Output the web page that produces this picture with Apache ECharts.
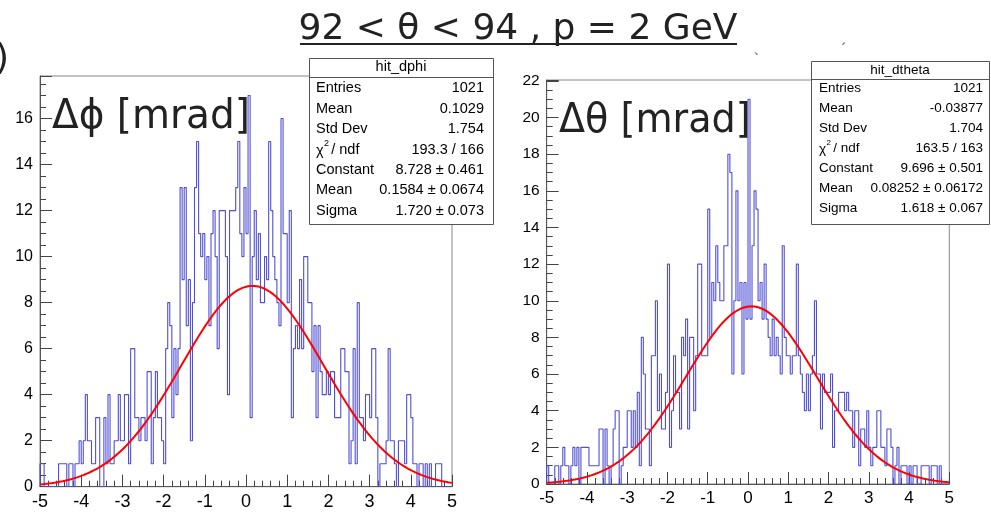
<!DOCTYPE html>
<html>
<head>
<meta charset="utf-8">
<script src="https://cdn.jsdelivr.net/npm/echarts@6/dist/echarts.min.js"></script>
<style>
  html, body { margin: 0; padding: 0; background: #fff; }
  #chart { width: 991px; height: 512px; }
</style>
</head>
<body>
<div id="chart"></div>
<script>
// Histogram binning: 200 bins of 0.05 mrad on [-5, 5]
const X_MIN = -5;
const X_MAX = 5;
const BIN_WIDTH = 0.05;

// hit_dphi bin contents (left to right)
const dphiCounts = [
  1,1,0,0,0,0,0,0,0,1,   1,1,1,0,1,1,0,1,1,2,
  1,2,4,2,2,1,1,3,3,0,   0,3,1,4,1,1,2,2,4,2,
  2,4,4,1,6,6,3,3,2,3,   3,2,5,5,1,3,5,3,3,2,
  1,6,8,7,3,6,4,6,13,9,  13,7,9,2,8,13,15,11,10,11,
  9,10,7,11,12,10,6,12,12,12, 10,4,12,12,12,13,15,11,10,13,
  11,17,3,10,12,9,11,8,8,10,  9,15,12,10,9,8,7,16,11,11,
  8,12,3,6,7,6,9,6,10,10,  8,8,5,7,3,7,5,4,4,5,
  4,5,5,3,3,3,6,6,5,5,   1,2,6,1,8,3,3,2,4,4,
  3,6,6,3,0,1,1,1,2,6,   2,2,1,0,2,2,2,1,4,4,
  3,1,1,0,1,1,0,1,0,1,   0,0,1,1,1,0,0,0,0,0
];

// hit_dtheta bin contents (left to right)
const dthetaCounts = [
  1,0,0,0,1,1,0,1,2,1,   1,0,1,2,1,2,0,2,2,2,
  2,1,1,1,1,1,3,3,0,3,   1,0,1,3,4,4,0,1,2,2,
  4,4,2,4,2,5,1,8,6,3,   3,1,7,7,10,4,6,3,3,5,
  12,2,4,7,5,5,3,8,7,9,  3,8,8,4,7,12,12,7,7,7,
  15,8,11,10,13,11,10,10,13,13, 18,17,6,10,16,10,11,6,11,9,
  21,9,13,16,15,10,11,9,12,9,   8,7,9,7,8,7,6,13,8,7,
  7,6,7,7,12,7,6,5,4,6,  4,6,7,10,6,6,3,6,5,5,
  5,6,2,4,4,5,5,5,4,5,   4,4,2,4,4,1,3,3,2,4,
  2,1,2,2,4,4,2,2,1,3,   3,2,0,1,2,0,1,1,1,0,
  1,0,1,1,0,0,1,1,1,1,   0,1,1,1,0,1,0,0,0,0
];

// Gaussian fit parameters [Constant, Mean, Sigma]
const dphiFit = [8.728, 0.1584, 1.720];
const dthetaFit = [9.696, 0.08252, 1.618];

// Axis ranges
const dphiYMax = 17.85;
const dthetaYMax = 22.05;

// Statistics box contents
const dphiStatsTitle = 'hit_dphi';
const dphiStatLabels = ['Entries', 'Mean', 'Std Dev', 'CHI', 'Constant', 'Mean', 'Sigma'];
const dphiStatValues = ['1021', '0.1029', '1.754', '193.3 / 166', '8.728 \u00b1 0.461', '0.1584 \u00b1 0.0674', '1.720 \u00b1 0.073'];
const dthetaStatsTitle = 'hit_dtheta';
const dthetaStatLabels = ['Entries', 'Mean', 'Std Dev', 'CHI', 'Constant', 'Mean', 'Sigma'];
const dthetaStatValues = ['1021', '-0.03877', '1.704', '163.5 / 163', '9.696 \u00b1 0.501', '0.08252 \u00b1 0.06172', '1.618 \u00b1 0.067'];

const titleText = '92 < \u03b8 < 94 , p = 2 GeV';
const dphiLabel = '\u0394\u03d5 [mrad]';
const dthetaLabel = '\u0394\u03b8 [mrad]';

// ---------------------------------------------------------------
const HELV = '"Liberation Sans", Arial, Helvetica, sans-serif';
const SLIDE = '"DejaVu Sans", sans-serif';
const HIST_COLOR = '#4f4fd6';

function histPoints(counts) {
  const pts = [[X_MIN, 0]];
  counts.forEach((c, i) => pts.push([+(X_MIN + i * BIN_WIDTH).toFixed(4), c]));
  pts.push([X_MAX, counts[counts.length - 1]]);
  pts.push([X_MAX, 0]);
  return pts;
}

function fitPoints(p) {
  const pts = [];
  for (let i = 0; i <= 400; i++) {
    const x = X_MIN + i * (X_MAX - X_MIN) / 400;
    const z = (x - p[1]) / p[2];
    pts.push([x, p[0] * Math.exp(-0.5 * z * z)]);
  }
  return pts;
}

function xAxisFor(gridIndex, fontSize) {
  return {
    type: 'value', gridIndex, min: X_MIN, max: X_MAX, interval: 1,
    axisLine: { show: true, onZero: false, lineStyle: { color: '#555', width: 1 } },
    axisTick: { show: true, inside: true, length: 12, lineStyle: { color: '#444', width: 1 } },
    minorTick: { show: true, splitNumber: 5, length: 6, lineStyle: { color: '#444', width: 1 } },
    splitLine: { show: false },
    minorSplitLine: { show: false },
    axisLabel: { fontSize, color: '#000', fontFamily: HELV, margin: 6 }
  };
}

function yAxisFor(gridIndex, max, fontSize) {
  return {
    type: 'value', gridIndex, min: 0, max, interval: 2,
    axisLine: { show: true, onZero: false, lineStyle: { color: '#555', width: 1 } },
    axisTick: { show: true, inside: true, length: 12, lineStyle: { color: '#444', width: 1 } },
    minorTick: { show: true, splitNumber: 4, length: 6, lineStyle: { color: '#444', width: 1 } },
    splitLine: { show: false },
    minorSplitLine: { show: false },
    axisLabel: {
      fontSize, color: '#000', fontFamily: HELV, margin: 7,
      formatter: v => (Math.abs(v / 2 - Math.round(v / 2)) < 1e-6 ? String(Math.round(v)) : '')
    }
  };
}

function text(x, y, str, font, align, vAlign, fill, scaleX) {
  return {
    type: 'text', x, y, z: 20, scaleX: scaleX || 1,
    style: { text: str, font, fill: fill || '#000', textAlign: align, textVerticalAlign: vAlign,
             align: align, verticalAlign: vAlign }
  };
}

function statsBox(box, title, labels, values, fontPx) {
  const els = [];
  els.push({ type: 'rect', z: 15, shape: { x: box.x0 + 0.5, y: box.y0 + 0.5, width: box.x1 - box.x0, height: box.y1 - box.y0 },
             style: { fill: '#fff', stroke: '#555', lineWidth: 1 } });
  els.push({ type: 'line', z: 16, shape: { x1: box.x0, y1: box.sep + 0.5, x2: box.x1, y2: box.sep + 0.5 },
             style: { stroke: '#555', lineWidth: 1 } });
  const font = fontPx + 'px ' + HELV;
  els.push(text((box.x0 + box.x1) / 2, box.head, title, font, 'center', 'middle'));
  labels.forEach((lab, i) => {
    const y = box.rows[i];
    if (lab === 'CHI') {
      els.push(text(box.lx, y + 1, '\u03c7', font, 'left', 'middle'));
      els.push(text(box.lx + fontPx * 0.55, y - fontPx * 0.45, '2', Math.round(fontPx * 0.62) + 'px ' + HELV, 'left', 'middle'));
      els.push(text(box.lx + fontPx * 1.05, y, '/ ndf', font, 'left', 'middle'));
    } else {
      els.push(text(box.lx, y, lab, font, 'left', 'middle'));
    }
    els.push(text(box.rx, y, values[i], font, 'right', 'middle'));
  });
  return els;
}

const graphics = [].concat(
  [
    text(518, 30, titleText, '36px ' + SLIDE, 'center', 'middle', '#222'),
    { type: 'line', z: 20, shape: { x1: 300, y1: 44, x2: 737, y2: 44 }, style: { stroke: '#222', lineWidth: 2 } },
    text(9, 60, ')', '36px ' + SLIDE, 'right', 'middle', '#222'),
    text(757, 60, '`', '14px ' + SLIDE, 'center', 'middle', '#555'),
    text(843, 50, '\u00b4', '14px ' + SLIDE, 'center', 'middle', '#555'),
    text(52, 118, dphiLabel, '40px ' + SLIDE, 'left', 'middle', '#222', 0.975),
    text(559, 121, dthetaLabel, '41px ' + SLIDE, 'left', 'middle', '#222', 0.93)
  ],
  statsBox({ x0: 309, y0: 58, x1: 493, y1: 224, sep: 77, head: 67, lx: 316, rx: 484,
             rows: [88, 108.5, 129, 150, 170, 190, 210.5] },
           dphiStatsTitle, dphiStatLabels, dphiStatValues, 14.5),
  statsBox({ x0: 811, y0: 61, x1: 989, y1: 224, sep: 79, head: 70, lx: 819, rx: 983,
             rows: [88.5, 108.5, 128.5, 148.5, 168.5, 188.5, 208.5] },
           dthetaStatsTitle, dthetaStatLabels, dthetaStatValues, 13.5)
);

const chart = echarts.init(document.getElementById('chart'), null, { renderer: 'canvas' });
chart.setOption({
  animation: false,
  backgroundColor: '#fff',
  grid: [
    { left: 40, top: 76, width: 412, height: 410.7, show: true, borderColor: '#888', borderWidth: 1, backgroundColor: 'transparent' },
    { left: 546.7, top: 80, width: 402.6, height: 404, show: true, borderColor: '#888', borderWidth: 1, backgroundColor: 'transparent' }
  ],
  xAxis: [xAxisFor(0, 18), xAxisFor(1, 17)],
  yAxis: [yAxisFor(0, dphiYMax, 16), yAxisFor(1, dthetaYMax, 15.5)],
  series: [
    { type: 'line', xAxisIndex: 0, yAxisIndex: 0, data: histPoints(dphiCounts), step: 'end',
      showSymbol: false, symbol: 'none', z: 2, lineStyle: { color: HIST_COLOR, width: 1.1 } },
    { type: 'line', xAxisIndex: 0, yAxisIndex: 0, data: fitPoints(dphiFit),
      showSymbol: false, symbol: 'none', z: 3, lineStyle: { color: '#ff0000', width: 2 } },
    { type: 'line', xAxisIndex: 1, yAxisIndex: 1, data: histPoints(dthetaCounts), step: 'end',
      showSymbol: false, symbol: 'none', z: 2, lineStyle: { color: HIST_COLOR, width: 1.1 } },
    { type: 'line', xAxisIndex: 1, yAxisIndex: 1, data: fitPoints(dthetaFit),
      showSymbol: false, symbol: 'none', z: 3, lineStyle: { color: '#ff0000', width: 2 } }
  ],
  graphic: { elements: graphics }
});
</script>
</body>
</html>
